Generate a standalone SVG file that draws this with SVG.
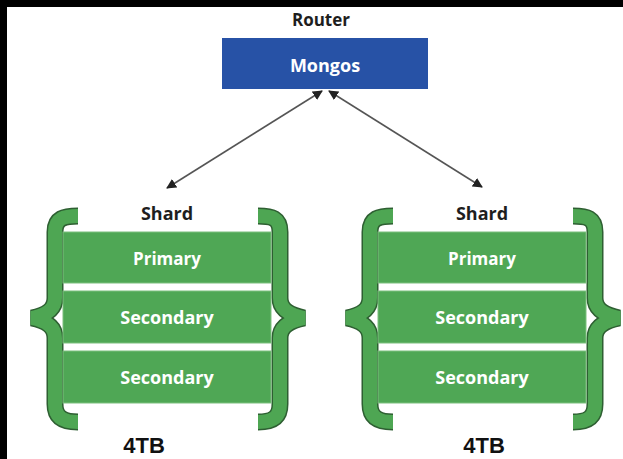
<svg xmlns="http://www.w3.org/2000/svg" width="623" height="459" viewBox="0 0 623 459">
  <defs>
    <style>
      .lbl { font-family: "Open Sans", "Liberation Sans", sans-serif; font-weight: 700; text-anchor: middle; }
      .dark { fill: #1e1e1e; }
      .white { fill: #ffffff; }
      .cap { font-family: "Liberation Sans", Arial, sans-serif; font-weight: 700; font-size: 22px; fill: #111111; text-anchor: middle; }
      .rep { fill: #4fa755; stroke: #7cc07f; stroke-width: 1; }
      .braceOut { fill: none; stroke: #2e5f32; stroke-width: 17; stroke-linejoin: miter; stroke-linecap: butt; }
      .braceIn { fill: none; stroke: #4ea653; stroke-width: 14; stroke-linejoin: miter; stroke-linecap: butt; }
      .conn { stroke: #555555; stroke-width: 1.6; fill: none; }
    </style>
    <marker id="ah" viewBox="0 0 10 10" refX="9" refY="5" markerWidth="10" markerHeight="10" markerUnits="userSpaceOnUse" orient="auto-start-reverse">
      <path d="M0,0 L10,5 L0,10 z" fill="#222222"/>
    </marker>
    <g id="shardShape">
      <path class="braceOut" d="M 78 216 C 64 216, 55 218, 55 232 L 55 298 C 55 310, 46 315, 32 318 C 46 321, 55 326, 55 338 L 55 404 C 55 418, 64 422, 78 422"/>
      <path class="braceIn" d="M 78 216 C 64 216, 55 218, 55 232 L 55 298 C 55 310, 46 315, 32 318 C 46 321, 55 326, 55 338 L 55 404 C 55 418, 64 422, 78 422"/>
      <path class="braceOut" d="M 258 216 C 272 216, 280 218, 280 232 L 280 298 C 280 310, 290 315, 304 318 C 290 321, 280 326, 280 338 L 280 404 C 280 418, 272 422, 258 422"/>
      <path class="braceIn" d="M 258 216 C 272 216, 280 218, 280 232 L 280 298 C 280 310, 290 315, 304 318 C 290 321, 280 326, 280 338 L 280 404 C 280 418, 272 422, 258 422"/>
      <rect class="rep" x="63" y="232" width="208" height="51"/>
      <rect class="rep" x="63" y="291" width="208" height="52"/>
      <rect class="rep" x="63" y="351" width="208" height="52"/>
      <text class="lbl dark" x="167" y="220" font-size="18">Shard</text>
      <text class="lbl white" x="167" y="265" font-size="17">Primary</text>
      <text class="lbl white" x="167" y="324" font-size="18">Secondary</text>
      <text class="lbl white" x="167" y="384" font-size="18">Secondary</text>
    </g>
  </defs>
  <rect x="0" y="0" width="623" height="459" fill="#ffffff"/>
  <rect x="0" y="0" width="623" height="7" fill="#000000"/>
  <rect x="0" y="0" width="7" height="459" fill="#000000"/>

  <g id="router">
    <text class="lbl dark" x="321" y="26" font-size="17">Router</text>
    <rect x="222" y="38" width="206" height="51" fill="#2752a6"/>
    <text class="lbl white" x="325" y="72" font-size="18">Mongos</text>
  </g>

  <g id="connectors">
    <line class="conn" x1="322" y1="91" x2="167" y2="188" marker-start="url(#ah)" marker-end="url(#ah)"/>
    <line class="conn" x1="329" y1="91" x2="482" y2="187" marker-start="url(#ah)" marker-end="url(#ah)"/>
  </g>

  <g id="shard-left">
    <use href="#shardShape"/>
    <text class="cap" x="144" y="453">4TB</text>
  </g>

  <g id="shard-right">
    <use href="#shardShape" transform="translate(315,0)"/>
    <text class="cap" x="484" y="453">4TB</text>
  </g>
</svg>
